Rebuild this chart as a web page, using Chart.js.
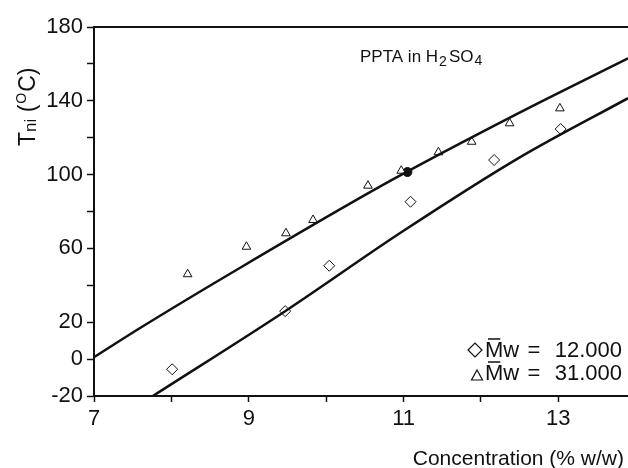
<!DOCTYPE html>
<html>
<head>
<meta charset="utf-8">
<script src="https://cdn.jsdelivr.net/npm/chart.js@4.4.1/dist/chart.umd.min.js"></script>
<style>
  html, body { margin: 0; padding: 0; background: #fff; }
  #wrap { width: 628px; height: 468px; }
</style>
</head>
<body>
<div id="wrap"><canvas id="c" width="628" height="468"></canvas></div>
<script>
// Mw = 12.000 (rombos)
const mw12X = [8.01, 9.47, 10.04, 11.09, 12.17, 13.03];
const mw12Y = [-5.5, 26, 50.6, 85.3, 107.9, 124.7];

// Mw = 31.000 (triangulos)
const mw31X = [8.21, 8.97, 9.48, 9.83, 10.54, 10.97, 11.45, 11.88, 12.37, 13.02];
const mw31Y = [46, 60.9, 68.2, 75.4, 94, 102.1, 112.1, 117.8, 127.8, 135.9];

// punto relleno
const filledX = [11.05];
const filledY = [101.4];

// curvas ajustadas
const upperFitX = [7, 7.59, 8.84, 10.85, 12.48, 13.9];
const upperFitY = [1, 16.7, 48.3, 97.1, 133.2, 163];
const lowerFitX = [7.76, 9.46, 10.98, 12.48, 13.9];
const lowerFitY = [-20, 25.7, 69, 108.8, 141.4];

// ejes
const xTickValues = [7, 8, 9, 10, 11, 12, 13];
const xTickLabels = [7, 9, 11, 13];
const yTickLabels = [180, 140, 100, 60, 20, 0, -20];

const INK = '#111';
const FONT = '"Liberation Sans", Arial, Helvetica, sans-serif';

function pts(xs, ys) {
  return xs.map((x, i) => ({ x: x, y: ys[i] }));
}

// Textos y borde superior dibujados a mano
const decorPlugin = {
  id: 'decor',
  afterDraw(chart) {
    const ctx = chart.ctx;
    const a = chart.chartArea;
    ctx.save();
    ctx.fillStyle = INK;
    ctx.strokeStyle = INK;

    // borde superior
    ctx.lineWidth = 2;
    ctx.beginPath();
    ctx.moveTo(a.left, a.top);
    ctx.lineTo(a.right, a.top);
    ctx.stroke();

    // titulo eje Y: Tni (ºC)
    ctx.save();
    ctx.translate(35, 146);
    ctx.rotate(-Math.PI / 2);
    ctx.textBaseline = 'alphabetic';
    let x = 0;
    ctx.font = '23px ' + FONT;
    ctx.fillText('T', x, 0); x += ctx.measureText('T').width;
    ctx.font = '17px ' + FONT;
    ctx.fillText('ni', x, 1); x += ctx.measureText('ni').width;
    ctx.font = '23px ' + FONT;
    ctx.fillText(' (', x, 0); x += ctx.measureText(' (').width + 1;
    ctx.font = '14px ' + FONT;
    ctx.fillText('O', x, -9); x += ctx.measureText('O').width + 1;
    ctx.font = '23px ' + FONT;
    ctx.fillText('C)', x, 0);
    ctx.restore();

    // titulo eje X
    ctx.font = '21px ' + FONT;
    ctx.textAlign = 'right';
    ctx.fillText('Concentration (% w/w)', 624, 465);

    // PPTA in H2SO4
    ctx.textAlign = 'left';
    x = 360;
    const by = 62;
    ctx.font = '17px ' + FONT;
    ctx.fillText('PPTA in H', x, by); x += ctx.measureText('PPTA in H').width + 1;
    ctx.font = '14px ' + FONT;
    ctx.fillText('2', x, by + 4); x += ctx.measureText('2').width + 2;
    ctx.font = '17px ' + FONT;
    ctx.fillText('SO', x, by); x += ctx.measureText('SO').width + 1;
    ctx.font = '14px ' + FONT;
    ctx.fillText('4', x, by + 3);

    // leyenda
    const rows = [
      { value: '12.000', base: 357, mark: 'diamond' },
      { value: '31.000', base: 380, mark: 'triangle' }
    ];
    ctx.font = '22px ' + FONT;
    rows.forEach(r => {
      ctx.textAlign = 'right';
      ctx.fillText(r.value, 622, r.base);
      ctx.textAlign = 'center';
      ctx.fillText('=', 534, r.base);
      ctx.textAlign = 'left';
      ctx.fillText('Mw', 485, r.base);
      const mW = ctx.measureText('M').width;
      ctx.lineWidth = 1.5;
      ctx.beginPath();
      ctx.moveTo(485 + 3, r.base - 18);
      ctx.lineTo(485 + mW - 3, r.base - 18);
      ctx.stroke();
      const cx = 475;
      ctx.lineWidth = 1.2;
      ctx.beginPath();
      if (r.mark === 'diamond') {
        const cy = r.base - 7;
        ctx.moveTo(cx - 7, cy); ctx.lineTo(cx, cy - 7);
        ctx.lineTo(cx + 7, cy); ctx.lineTo(cx, cy + 7);
      } else {
        const cx2 = 477, cy = r.base - 4;
        ctx.moveTo(cx2, cy - 6); ctx.lineTo(cx2 + 5.5, cy + 4);
        ctx.lineTo(cx2 - 5.5, cy + 4);
      }
      ctx.closePath();
      ctx.stroke();
    });

    ctx.restore();
  }
};

new Chart(document.getElementById('c'), {
  type: 'scatter',
  data: {
    datasets: [
      {
        label: 'fit31',
        data: pts(upperFitX, upperFitY),
        showLine: true,
        cubicInterpolationMode: 'monotone',
        borderColor: INK,
        borderWidth: 2.5,
        pointRadius: 0
      },
      {
        label: 'fit12',
        data: pts(lowerFitX, lowerFitY),
        showLine: true,
        cubicInterpolationMode: 'monotone',
        borderColor: INK,
        borderWidth: 2.5,
        pointRadius: 0
      },
      {
        label: 'Mw 12.000',
        data: pts(mw12X, mw12Y),
        pointStyle: 'rectRot',
        pointRadius: 5.5,
        borderColor: INK,
        borderWidth: 1,
        backgroundColor: '#fff'
      },
      {
        label: 'Mw 31.000',
        data: pts(mw31X, mw31Y),
        pointStyle: 'triangle',
        pointRadius: 5,
        borderColor: INK,
        borderWidth: 1,
        backgroundColor: '#fff'
      },
      {
        label: 'filled',
        data: pts(filledX, filledY),
        pointStyle: 'circle',
        pointRadius: 4.5,
        borderColor: INK,
        borderWidth: 1,
        backgroundColor: INK
      }
    ]
  },
  options: {
    responsive: false,
    animation: false,
    layout: { autoPadding: false, padding: { top: 27, right: 0, left: 0, bottom: 0 } },
    plugins: {
      legend: { display: false },
      tooltip: { enabled: false }
    },
    scales: {
      x: {
        type: 'linear',
        min: 7,
        max: 13.9,
        afterBuildTicks: scale => {
          scale.ticks = xTickValues.map(v => ({ value: v }));
        },
        afterFit: scale => { scale.height = 72; },
        border: { display: true, color: INK, width: 2 },
        grid: { drawOnChartArea: false, drawTicks: true, tickLength: 6, color: INK, tickWidth: 1.5 },
        ticks: {
          color: INK,
          padding: 4,
          maxRotation: 0,
          autoSkip: false,
          font: { family: FONT, size: 22 },
          callback: v => (xTickLabels.includes(v) ? String(v) : '')
        }
      },
      y: {
        type: 'linear',
        min: -20,
        max: 180,
        afterFit: scale => { scale.width = 94; },
        border: { display: true, color: INK, width: 2 },
        grid: { drawOnChartArea: false, drawTicks: true, tickLength: 7, color: INK, tickWidth: 1.5 },
        ticks: {
          stepSize: 20,
          color: INK,
          padding: 4,
          autoSkip: false,
          font: { family: FONT, size: 22 },
          callback: v => (yTickLabels.includes(v) ? String(v) : '')
        }
      }
    }
  },
  plugins: [decorPlugin]
});
</script>
</body>
</html>
